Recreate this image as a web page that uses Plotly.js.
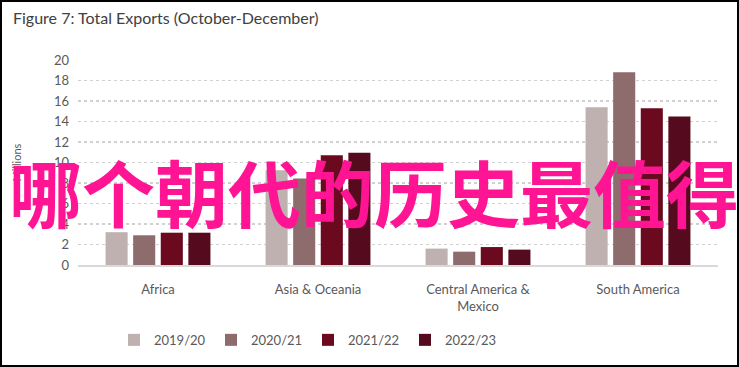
<!DOCTYPE html>
<html><head><meta charset="utf-8">
<script src="https://cdn.plot.ly/plotly-3.0.1.min.js"></script>
<style>body{margin:0;padding:0;} #wrap{position:relative;width:739px;height:367px;} #frame{position:absolute;left:0;top:0;width:739px;height:367px;box-sizing:border-box;border:2px solid #000;pointer-events:none;}</style>
</head><body>
<div id="wrap"><div id="chart"></div><div id="frame"></div></div>
<script>
const categories = ["Africa", "Asia & Oceania", "Central America &<br>Mexico", "South America"];
const seriesNames = ["2019/20", "2020/21", "2021/22", "2022/23"];
const v2019 = [3.2, 9.25, 1.6, 15.4];
const v2020 = [2.9, 8.45, 1.3, 18.8];
const v2021 = [3.15, 10.7, 1.75, 15.3];
const v2022 = [3.15, 10.95, 1.5, 14.5];
const colors = ["#bfb1b0", "#8e6b6d", "#6b0a1f", "#560a1d"];
const overlayText = "哪个朝代的历史最值得";

const data = [v2019, v2020, v2021, v2022].map((vals, i) => ({
  type: "bar", name: seriesNames[i], x: categories, y: vals,
  marker: {color: colors[i]}, hoverinfo: "none"
}));

const layout = {
  width: 739, height: 367,
  margin: {l: 78, r: 21, t: 60, b: 99},
  paper_bgcolor: "#ffffff", plot_bgcolor: "#ffffff",
  font: {family: "Lato, 'Open Sans', sans-serif", size: 13, color: "#595959"},
  title: {text: "Figure 7: Total Exports (October-December)", x: 13/739, xanchor: "left", y: 1 - 18/367, yanchor: "middle", xref: "container", yref: "container",
          font: {size: 16, color: "#404040", family: "Lato, 'Open Sans', sans-serif"}},
  barmode: "group", bargap: 0.31, bargroupgap: 0.2,
  xaxis: {showgrid: false, zeroline: false, showline: true, linecolor: "#d9d9d9", linewidth: 1.5, ticks: "", ticklabelstandoff: 12, tickfont: {size: 13, color: "#595959"}},
  yaxis: {range: [0, 20], dtick: 2, showgrid: true, gridcolor: "#d0d0d0", griddash: "dot", gridwidth: 1.5, zeroline: false, showline: false, ticks: "",
          ticklabelstandoff: 8, tickfont: {size: 13, color: "#595959"},
          title: {text: "Millions", font: {size: 11, color: "#595959"}, standoff: 30}},
  showlegend: true,
  legend: {orientation: "h", x: (308-78)/640, xanchor: "center", y: (268-344)/208, yanchor: "middle", font: {size: 13, color: "#595959"},
           entrywidth: 52, entrywidthmode: "pixels", itemwidth: 30, traceorder: "normal"},
  annotations: [{text: overlayText, xref: "paper", yref: "paper", x: (374-78)/640, y: (268-192)/208, xanchor: "center", yanchor: "middle", showarrow: false,
                 font: {family: "'Noto Sans CJK SC', sans-serif", size: 73, weight: 700, color: "#ff1493"}}]
};
Plotly.newPlot("chart", data, layout, {displayModeBar: false, staticPlot: true});
</script>
</body></html>
